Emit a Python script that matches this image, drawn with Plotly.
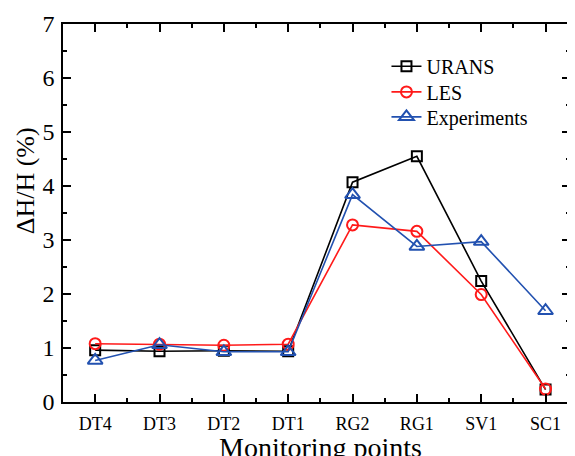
import plotly.graph_objects as go

categories = ["DT4", "DT3", "DT2", "DT1", "RG2", "RG1", "SV1", "SC1"]
urans = [0.96, 0.94, 0.95, 0.94, 4.07, 4.55, 2.24, 0.23]
les = [1.08, 1.07, 1.05, 1.07, 3.28, 3.16, 1.99, 0.24]
experiments = [0.77, 1.06, 0.93, 0.93, 3.84, 2.88, 2.97, 1.69]
yticks = [0, 1, 2, 3, 4, 5, 6, 7]

xpos = list(range(len(categories)))
FONT = "Liberation Serif"
BLUE = "#2251b0"
RED = "#ff1a1a"

fig = go.Figure()
fig.add_trace(go.Scatter(x=xpos, y=urans, name="URANS", mode="lines+markers", legend="legend",
                         line=dict(color="black", width=1.6),
                         marker=dict(symbol="square-open", size=10, color="black",
                                     line=dict(width=2, color="black"))))
fig.add_trace(go.Scatter(x=xpos, y=les, name="LES", mode="lines+markers", legend="legend2",
                         line=dict(color=RED, width=1.6),
                         marker=dict(symbol="circle-open", size=11, color=RED,
                                     line=dict(width=2, color=RED))))
fig.add_trace(go.Scatter(x=xpos, y=experiments, name="Experiments", mode="lines+markers",
                         legend="legend3",
                         line=dict(color=BLUE, width=1.6),
                         marker=dict(symbol="triangle-up-open", size=13, color=BLUE,
                                     line=dict(width=2, color=BLUE))))

legend_style = dict(x=0.638, xanchor="left", yanchor="top", bgcolor="rgba(0,0,0,0)",
                    font=dict(size=20, family=FONT), itemwidth=30)

# page body has an 8px margin, so the figure is 8px smaller to fit the window
fig.update_layout(
    width=567, height=448,
    margin=dict(l=55, r=3, t=14, b=54),
    paper_bgcolor="white", plot_bgcolor="white",
    font=dict(family=FONT, color="black"),
    showlegend=True,
    legend=dict(y=0.94, **legend_style),
    legend2=dict(y=0.872, **legend_style),
    legend3=dict(y=0.806, **legend_style),
    xaxis=dict(range=[-0.5, 7.38], tickmode="array", tickvals=xpos, ticktext=categories,
               showgrid=False, zeroline=False, showline=True, linecolor="black", linewidth=1.5,
               mirror="ticks", ticks="inside", ticklen=8, tickwidth=1.5, tickcolor="black",
               tickfont=dict(size=18, family=FONT), ticklabelstandoff=5,
               minor=dict(tick0=0.5, dtick=1, ticks="inside", ticklen=4, tickwidth=1.5,
                          tickcolor="black", showgrid=False)),
    yaxis=dict(range=[0, 7], tickmode="array", tickvals=yticks,
               showgrid=False, zeroline=False, showline=True, linecolor="black", linewidth=1.5,
               mirror="ticks", ticks="inside", ticklen=8, tickwidth=1.5, tickcolor="black",
               tickfont=dict(size=24, family=FONT), ticklabelstandoff=2,
               minor=dict(tick0=0.5, dtick=1, ticks="inside", ticklen=4, tickwidth=1.5,
                          tickcolor="black", showgrid=False)),
)

fig.add_annotation(text="ΔH/H (%)", xref="paper", yref="paper",
                   x=-38/509, y=(402-180)/380, xanchor="center", yanchor="middle",
                   textangle=-90, showarrow=False, font=dict(size=26, family=FONT))
fig.add_annotation(text="Monitoring points", xref="paper", yref="paper",
                   x=(322-63)/509, y=-(430-402)/380, xanchor="center", yanchor="top",
                   showarrow=False, font=dict(size=28, family=FONT))

fig.write_html("out.html")
